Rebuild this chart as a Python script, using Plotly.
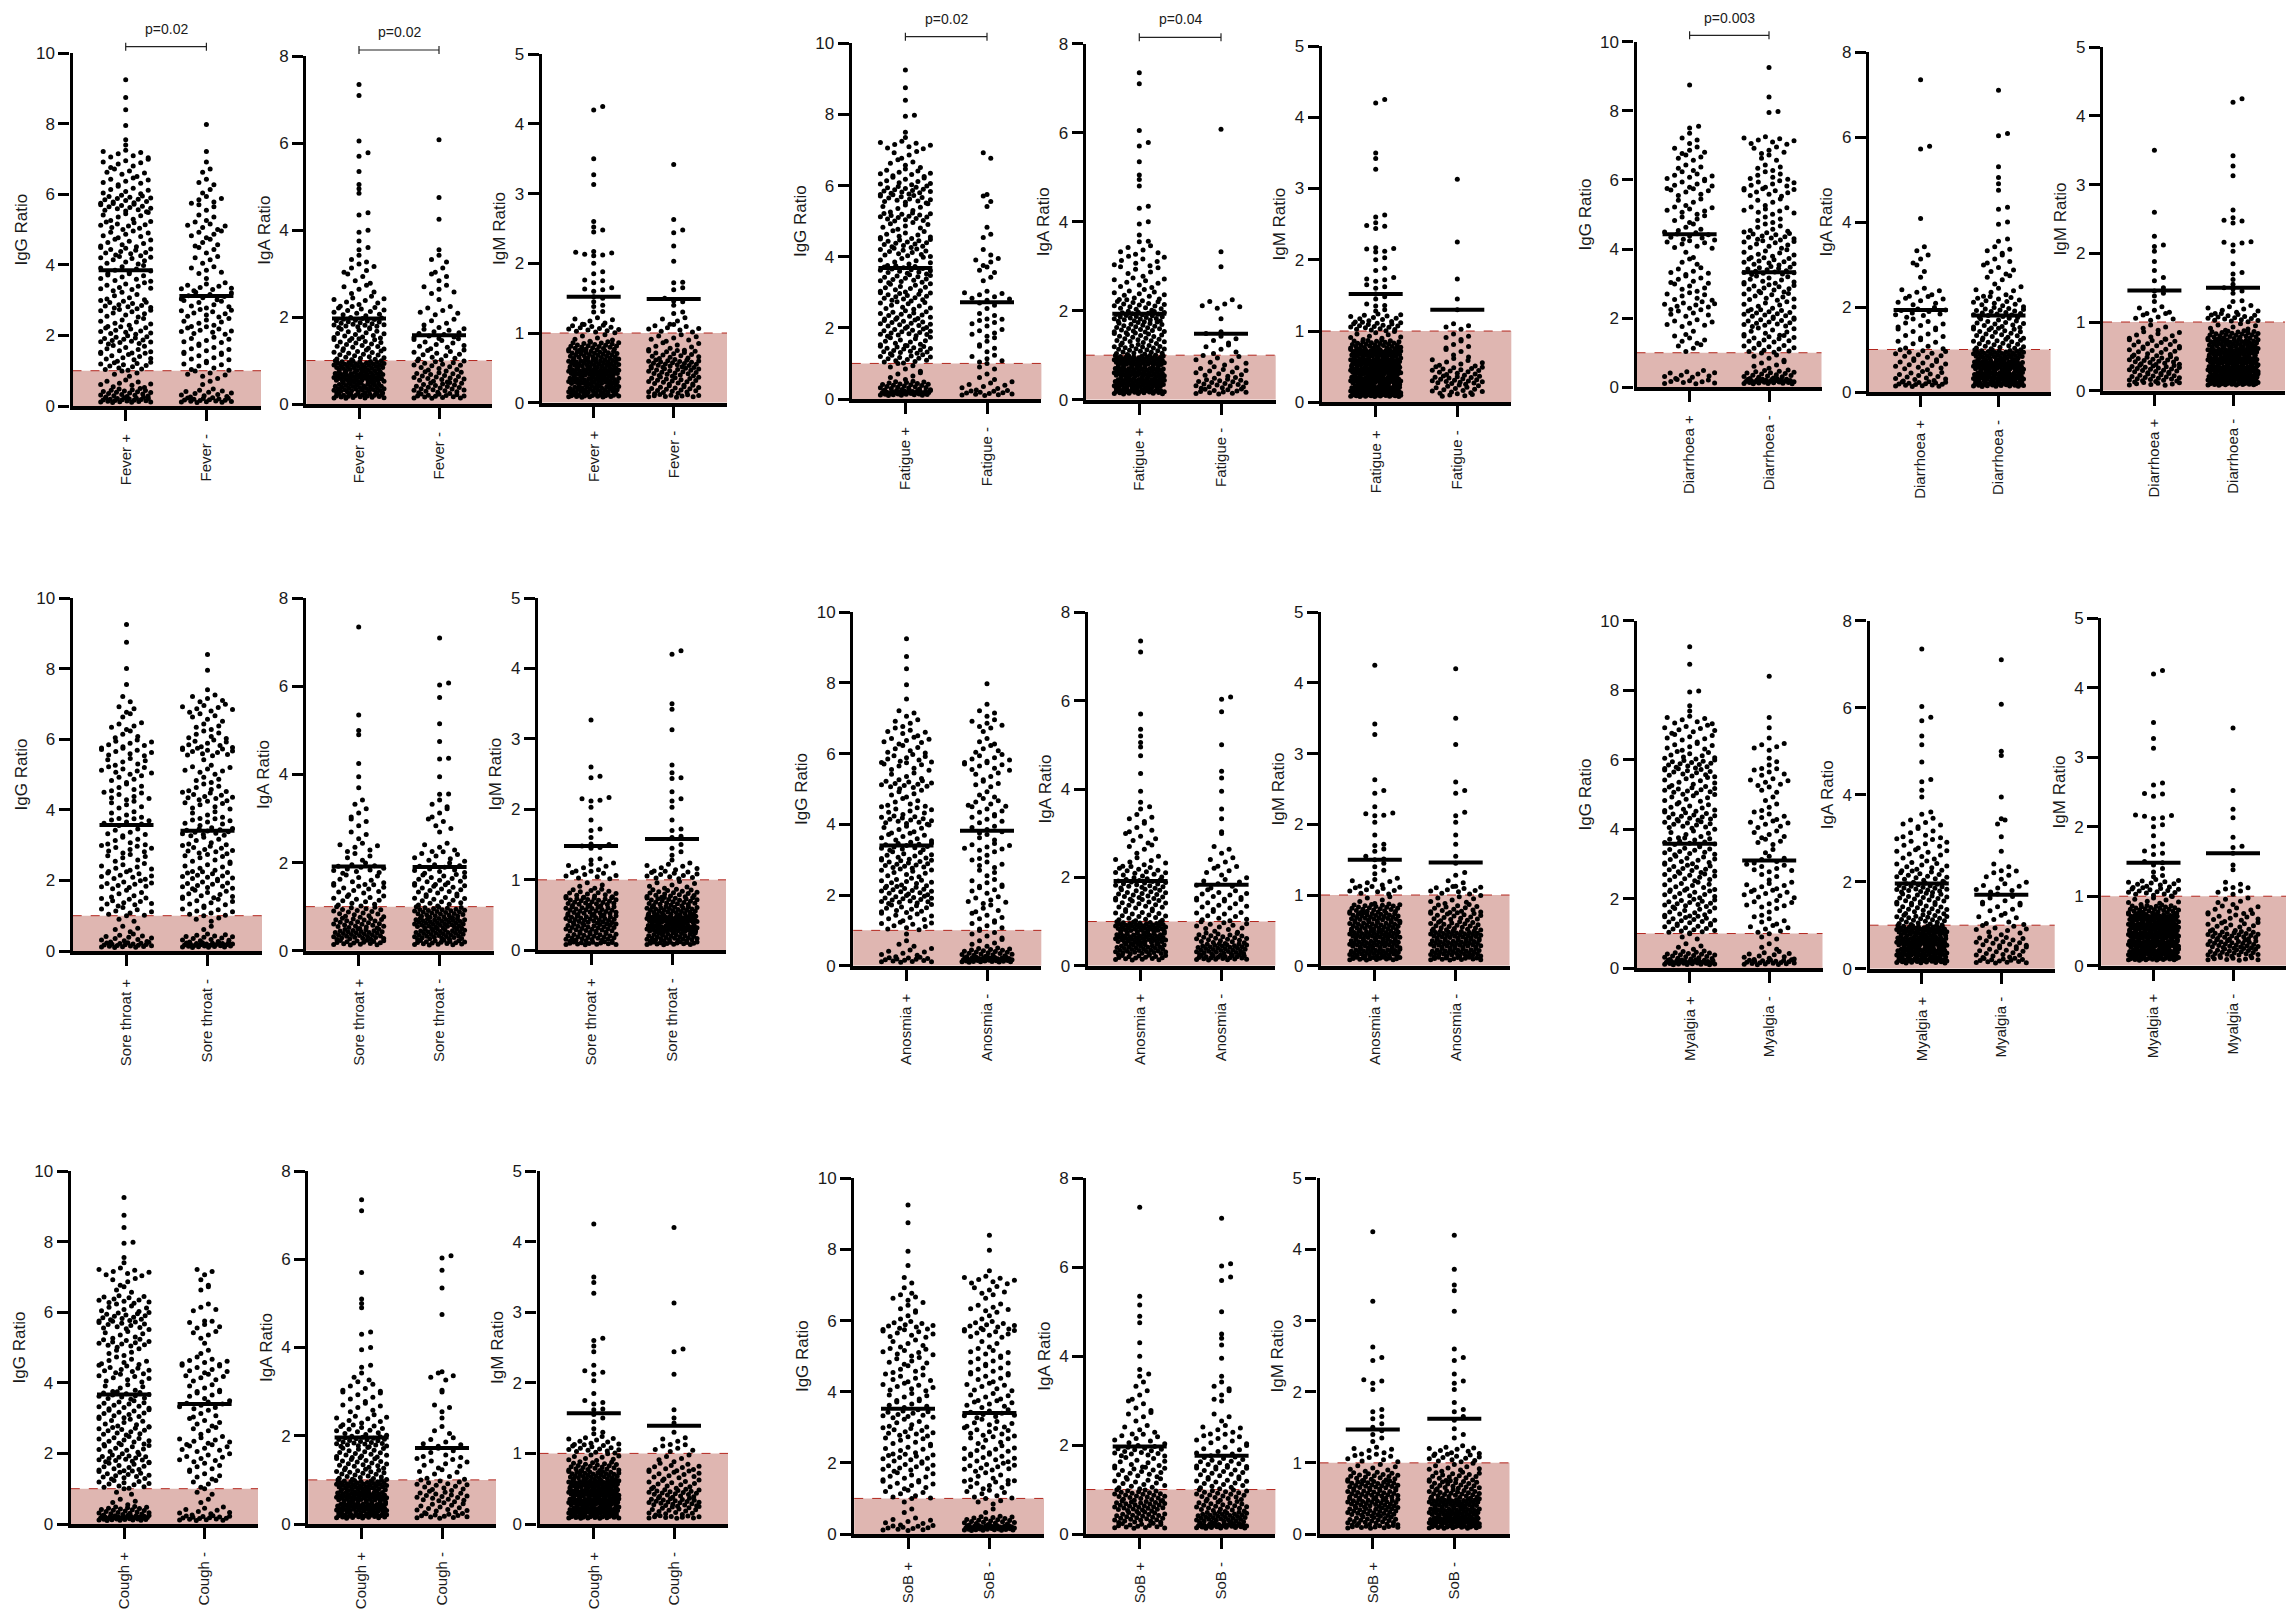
import plotly.graph_objects as go

# ---------- chart content ----------
SYMPTOMS = ["Fever", "Fatigue", "Diarrhoea", "Sore throat", "Anosmia", "Myalgia", "Cough", "SoB"]
ANTIBODIES = ["IgG", "IgA", "IgM"]
Y_TICKS = {"IgG": [0, 2, 4, 6, 8, 10], "IgA": [0, 2, 4, 6, 8], "IgM": [0, 1, 2, 3, 4, 5]}
CUTOFF = 1
# width of the count bins
BIN = {"IgG": 0.25, "IgA": 0.25, "IgM": 0.125}
FLOOR = {"IgG": 0.1, "IgA": 0.13, "IgM": 0.08}

# group means (IgG+, IgG-, IgA+, IgA-, IgM+, IgM-)
Fever_means = [3.85, 3.12, 1.97, 1.58, 1.52, 1.49]
Fatigue_means = [3.68, 2.72, 1.93, 1.48, 1.52, 1.30]
Diarrhoea_means = [4.43, 3.33, 1.93, 1.80, 1.46, 1.50]
Sore_throat_means = [3.57, 3.41, 1.91, 1.90, 1.48, 1.58]
Anosmia_means = [3.40, 3.82, 1.92, 1.83, 1.50, 1.46]
Myalgia_means = [3.58, 3.10, 1.96, 1.70, 1.48, 1.62]
Cough_means = [3.67, 3.40, 1.96, 1.72, 1.57, 1.39]
SoB_means = [3.52, 3.40, 1.97, 1.76, 1.47, 1.62]

# number of points per bin, and the separate points above the binned part
Fever_IgG_pos = [22,20,9,4,12,10,9,14,11,8,9,12,6,9,8,8,9,11,8,7,10,7,13,13,7,7,6,7,7]
Fever_IgG_pos_high = [7.4,7.55,7.95,8.4,8.75,9.25]
Fever_IgG_neg = [17,12,2,6,7,7,7,7,9,7,9,7,8,9,1,5,4,3,4,5,6,3,3,5,2,3,2,1,1]
Fever_IgG_neg_high = [7.98]
Fatigue_IgG_pos = [32,24,5,5,14,16,11,15,14,13,10,14,11,13,14,8,12,14,9,7,15,7,13,15,9,9,5,4,8]
Fatigue_IgG_pos_high = [7.35,7.5,7.95,7.98,8.4,8.75,9.25]
Fatigue_IgG_neg = [12,8,3,3,5,3,3,5,5,3,3,7,1,2,3,4,2,0,2,1,0,1,2,1,0,0,0,2,0]
Fatigue_IgG_neg_high = []
Diarrhoea_IgG_pos = [9,10,0,0,4,5,2,7,6,9,7,5,6,6,3,2,7,9,4,5,7,4,6,7,7,4,4,5,3]
Diarrhoea_IgG_pos_high = [7.35,7.5,7.55,8.75]
Diarrhoea_IgG_neg = [28,18,5,5,11,11,8,13,13,8,10,11,9,14,11,8,9,12,6,4,8,4,9,8,6,4,3,5,8]
Diarrhoea_IgG_neg_high = [7.95,7.98,8.4,9.25]
Sore_throat_IgG_pos = [20,12,4,3,8,10,5,10,9,8,6,8,6,6,7,5,5,7,5,5,8,6,8,8,4,5,2,3,2]
Sore_throat_IgG_pos_high = [7.55,8.0,8.75,9.25]
Sore_throat_IgG_neg = [26,15,2,4,8,8,9,11,11,7,7,10,6,13,7,5,7,10,6,4,7,2,11,9,6,4,5,8,5]
Sore_throat_IgG_neg_high = [7.4,7.95,8.4]
Anosmia_IgG_pos = [14,8,3,1,9,8,11,15,14,11,9,14,10,13,8,7,13,8,6,5,12,5,7,9,6,7,6,4,3]
Anosmia_IgG_pos_high = [7.55,7.95,8.4,8.75,9.25]
Anosmia_IgG_neg = [36,22,5,5,5,5,4,6,5,5,3,5,3,7,3,5,5,5,6,3,4,4,7,7,4,3,2,5,3]
Anosmia_IgG_neg_high = [7.4,7.98]
Myalgia_IgG_pos = [30,20,4,3,13,13,11,13,11,10,11,12,10,11,11,6,12,13,9,8,12,8,12,14,9,7,7,8,7]
Myalgia_IgG_pos_high = [7.4,7.55,7.95,7.98,8.75,9.25]
Myalgia_IgG_neg = [20,11,3,3,6,5,3,7,8,7,3,7,5,2,4,5,6,5,3,2,3,6,5,3,1,5,1,1,1]
Myalgia_IgG_neg_high = [8.4]
Cough_IgG_pos = [32,22,4,3,11,13,11,16,10,11,12,9,11,11,12,6,8,10,7,5,12,6,12,14,7,11,3,4,8]
Cough_IgG_pos_high = [7.4,7.55,7.95,7.98,8.4,8.75,9.25]
Cough_IgG_neg = [16,9,2,3,4,5,5,8,7,8,4,5,4,8,5,5,6,7,7,2,1,4,5,1,4,0,2,2,3]
Cough_IgG_neg_high = []
SoB_IgG_pos = [11,7,2,2,7,8,8,10,10,7,7,10,6,11,6,6,8,7,5,6,8,5,8,10,3,3,5,2,2]
SoB_IgG_pos_high = [7.55,7.95,8.75,9.25]
SoB_IgG_neg = [36,22,2,4,7,9,6,10,9,9,6,9,7,9,7,6,7,6,6,6,6,3,9,10,3,6,2,5,8]
SoB_IgG_neg_high = [7.4,7.98,8.4]

Fever_IgA_pos = [22,38,42,38,18,17,15,22,12,9,5,4,5,3]
Fever_IgA_pos_high = [3.55,3.6,3.75,3.95,4.0,4.35,4.4,4.85,4.95,5.05,5.35,5.7,5.78,6.05,7.1,7.35]
Fever_IgA_neg = [15,22,19,15,12,10,11,5,6,1,5,3,2,3]
Fever_IgA_neg_high = [3.55,4.25,4.75,6.08]
Fatigue_IgA_pos = [28,52,50,50,24,20,22,26,17,11,9,6,8,6]
Fatigue_IgA_pos_high = [3.55,3.56,3.7,3.95,4.0,4.3,4.35,4.8,4.95,5.05,5.35,5.7,5.78,6.05,7.1,7.35]
Fatigue_IgA_neg = [12,20,12,8,5,5,1,1,6,0,0,1,0,1]
Fatigue_IgA_neg_high = [6.08]
Diarrhoea_IgA_pos = [16,14,12,12,7,7,7,10,7,6,1,2,3,2]
Diarrhoea_IgA_pos_high = [4.08,5.72,5.78,7.35]
Diarrhoea_IgA_neg = [30,48,50,38,18,17,15,18,13,7,4,5,4,4]
Diarrhoea_IgA_neg_high = [3.55,3.6,3.95,4.0,4.3,4.35,4.75,4.9,5.05,5.3,6.03,6.08,7.1]
Sore_throat_IgA_pos = [16,32,24,18,12,11,9,12,4,6,3,3,3,2]
Sore_throat_IgA_pos_high = [3.7,3.95,4.25,4.9,5.0,5.35,7.35]
Sore_throat_IgA_neg = [18,34,36,30,14,14,13,11,8,5,1,4,3,3]
Sore_throat_IgA_neg_high = [3.55,3.56,3.95,4.35,4.37,4.75,5.15,5.75,6.03,6.08,7.1]
Anosmia_IgA_pos = [16,35,40,40,16,16,18,20,14,8,4,5,4,4]
Anosmia_IgA_pos_high = [3.55,3.6,3.7,3.95,4.35,4.75,4.95,5.05,5.2,5.35,5.7,7.1,7.35]
Anosmia_IgA_neg = [22,34,22,12,10,10,10,8,5,4,3,1,1,1]
Anosmia_IgA_neg_high = [3.55,3.95,4.25,4.4,5.0,5.75,6.03,6.08]
Myalgia_IgA_pos = [28,46,50,45,22,18,18,22,14,11,9,8,6,6]
Myalgia_IgA_pos_high = [3.55,3.6,3.95,4.1,4.3,4.35,4.75,5.15,5.35,5.7,5.78,6.03,7.35]
Myalgia_IgA_neg = [14,16,16,9,7,6,6,8,5,3,1,0,1,2]
Myalgia_IgA_neg_high = [3.45,3.95,4.9,5.0,6.08,7.1]
Cough_IgA_pos = [26,48,48,40,20,18,17,24,13,9,6,6,6,3]
Cough_IgA_pos_high = [3.55,3.6,3.95,4.0,4.3,4.35,4.9,5.0,5.1,5.7,7.1,7.35]
Cough_IgA_neg = [12,14,17,14,7,8,6,6,3,1,3,1,1,4]
Cough_IgA_neg_high = [3.45,4.75,5.35,5.75,6.03,6.08]
SoB_IgA_pos = [14,26,28,24,13,14,10,16,8,5,4,4,3,2]
SoB_IgA_pos_high = [3.55,3.6,3.7,4.0,4.3,4.75,4.9,5.15,5.35,7.35]
SoB_IgA_neg = [28,34,22,20,14,14,14,8,8,6,3,1,3,3]
SoB_IgA_neg_high = [3.55,3.95,4.25,4.4,4.5,5.0,5.7,5.78,6.03,6.08,7.1]

Fever_IgM_pos = [20,34,36,38,34,30,24,6,14,6]
Fever_IgM_pos_high = [1.3,1.31,1.38,1.4,1.45,1.5,1.52,1.6,1.62,1.63,1.65,1.72,1.75,1.76,1.85,1.88,2.0,2.11,2.12,2.13,2.15,2.16,2.17,2.45,2.48,2.52,2.6,3.13,3.27,3.5,4.2,4.25]
Fever_IgM_neg = [10,18,18,20,22,15,8,7,9,4]
Fever_IgM_neg_high = [1.28,1.3,1.4,1.45,1.46,1.5,1.62,1.65,1.72,1.73,2.03,2.25,2.44,2.48,2.63,3.42]
Fatigue_IgM_pos = [28,45,48,50,46,45,30,9,18,12]
Fatigue_IgM_pos_high = [1.28,1.3,1.35,1.36,1.38,1.45,1.48,1.52,1.6,1.62,1.65,1.7,1.72,1.73,1.75,1.85,1.88,2.0,2.03,2.11,2.12,2.15,2.16,2.17,2.44,2.47,2.48,2.52,2.6,2.63,3.27,3.42,3.5,4.2,4.25]
Fatigue_IgM_neg = [5,14,19,15,8,4,4,4,4,0]
Fatigue_IgM_neg_high = [1.3,1.45,1.73,2.25,3.13]
Diarrhoea_IgM_pos = [8,20,20,18,12,12,8,4,6,5]
Diarrhoea_IgM_pos_high = [1.3,1.38,1.42,1.45,1.5,1.6,1.65,1.75,1.88,2.03,2.1,2.12,2.25,2.6,3.5]
Diarrhoea_IgM_neg = [24,50,45,44,38,35,26,7,16,8]
Diarrhoea_IgM_neg_high = [1.3,1.31,1.42,1.45,1.48,1.5,1.55,1.62,1.7,1.72,1.85,2.03,2.12,2.15,2.16,2.17,2.44,2.47,2.48,2.52,2.63,3.13,3.27,3.42,4.2,4.25]
Sore_throat_IgM_pos = [14,26,26,28,26,24,15,4,9,7]
Sore_throat_IgM_pos_high = [1.28,1.3,1.45,1.46,1.48,1.5,1.51,1.6,1.7,1.72,1.85,2.03,2.12,2.13,2.15,2.17,2.45,2.47,2.6,3.27]
Sore_throat_IgM_neg = [16,30,38,42,30,24,18,7,12,8]
Sore_throat_IgM_neg_high = [1.28,1.35,1.4,1.45,1.5,1.6,1.62,1.7,1.72,1.85,2.03,2.12,2.15,2.25,2.44,2.45,2.52,2.63,3.13,3.42,3.5,4.2,4.25]
Anosmia_IgM_pos = [16,34,34,34,30,30,24,5,10,7]
Anosmia_IgM_pos_high = [1.3,1.35,1.4,1.45,1.5,1.51,1.55,1.62,1.65,1.7,1.72,1.85,2.03,2.12,2.13,2.15,2.16,2.25,2.44,2.48,2.63,3.27,3.42,4.25]
Anosmia_IgM_neg = [14,32,32,32,20,16,14,8,10,3]
Anosmia_IgM_neg_high = [1.28,1.32,1.45,1.55,1.72,1.85,2.03,2.12,2.17,2.44,2.48,2.6,3.13,3.5,4.2]
Myalgia_IgM_pos = [24,42,45,45,42,38,28,9,15,12]
Myalgia_IgM_pos_high = [1.28,1.3,1.35,1.4,1.45,1.48,1.5,1.6,1.62,1.65,1.72,1.75,1.87,2.0,2.03,2.12,2.13,2.15,2.16,2.17,2.44,2.47,2.48,2.6,2.63,3.13,3.27,3.5,4.2,4.25]
Myalgia_IgM_neg = [9,22,24,22,12,10,8,5,5,3]
Myalgia_IgM_neg_high = [1.38,1.45,1.62,1.7,1.72,1.85,2.13,2.25,2.52,3.42]
Cough_IgM_pos = [22,42,44,42,38,32,22,10,14,10]
Cough_IgM_pos_high = [1.28,1.3,1.35,1.45,1.5,1.55,1.62,1.63,1.7,1.72,1.75,1.85,2.03,2.12,2.15,2.17,2.25,2.44,2.52,2.6,2.63,3.27,3.42,3.5,4.25]
Cough_IgM_neg = [10,16,22,20,12,11,10,5,6,4]
Cough_IgM_neg_high = [1.3,1.43,1.5,1.62,2.12,2.44,2.48,3.13,4.2]
SoB_IgM_pos = [12,24,26,28,26,26,18,7,8,6]
SoB_IgM_pos_high = [1.3,1.35,1.4,1.45,1.5,1.55,1.62,1.65,1.72,1.75,2.03,2.12,2.15,2.17,2.44,2.48,2.63,3.27,4.25]
SoB_IgM_neg = [18,40,36,36,24,20,16,9,12,10]
SoB_IgM_neg_high = [1.35,1.4,1.48,1.6,1.65,1.72,1.75,1.85,2.03,2.12,2.15,2.25,2.44,2.48,2.6,3.13,3.42,3.5,3.72,4.2]

# p-value brackets: symptom, antibody, label
P_LABELS = [("Fever", "IgG", "p=0.02"), ("Fever", "IgA", "p=0.02"), ("Fatigue", "IgG", "p=0.02"),
            ("Fatigue", "IgA", "p=0.04"), ("Diarrhoea", "IgG", "p=0.003")]

# ---------- page layout, in pixels of the 2296x1611 page ----------
W, H = 2296, 1611
# axis_x, right_x, cat1_x, cat2_x, top_y, zero_y
GEOM = {
    "Fever": [(72.5,261,125.7,206.4,53.3,406), (306.4,492,359,439,56.3,404), (541.7,727,593.7,673.7,54.3,402.7)],
    "Fatigue": [(851.8,1041.4,905.4,987,43.3,399), (1085.7,1275.7,1139.3,1221,43.7,399.7), (1321.7,1511.3,1375.7,1457.3,46,402.3)],
    "Diarrhoea": [(1636.5,1821.5,1689.6,1769,41.7,387.3), (1869,2050.6,1920.6,1998.5,52,392), (2103,2285,2154.4,2233,47.3,390.7)],
    "Sore throat": [(72.7,262,126.5,207.5,598,951), (305.9,493.5,358.7,439.6,598.3,950.7), (538,726,591,672,598,950.3)],
    "Anosmia": [(853.2,1041.3,906.5,987,612.3,965.7), (1087.8,1275.4,1140.6,1221.6,612.3,965.7), (1321,1509.5,1374.8,1455.7,612.3,965.7)],
    "Myalgia": [(1636.8,1822.5,1689.7,1769.2,620.7,968.3), (1869.5,2054.7,1921.8,2001.3,620.7,968.7), (2101.2,2286,2153.5,2233,618.3,965.7)],
    "Cough": [(70.8,258,124,204.6,1171,1524), (308.3,496,361.6,442,1171,1524), (539.5,728,593.8,674,1171,1524)],
    "SoB": [(854.2,1044,908,989.4,1178.3,1534), (1086.4,1275.4,1139.7,1221.6,1178.3,1534), (1319.5,1509.5,1372.8,1454.3,1178.3,1534)],
}
P_GEOM = {("Fever", "IgG"): (46.7, 29), ("Fever", "IgA"): (50, 32), ("Fatigue", "IgG"): (36.7, 19),
          ("Fatigue", "IgA"): (37.3, 19), ("Diarrhoea", "IgG"): (35.3, 18.3)}
BAND = "#DFB6B1"
CUT_LINE = "#B3261E"
FONT = "Liberation Sans, Arial, sans-serif"
INK = "#1a1a1a"
HALF = 25.0      # half width of a swarm, px
MEAN_HALF = 27.0 # half width of the mean bar, px


def frac(v):
    return v - int(v)


def swarm(counts, high, ab, px_x, px_y):
    """Lay out one group's points: bins fill rows across the swarm width, single points are nudged aside."""
    w = BIN[ab]
    xs, ys = [], []
    for b, n in enumerate(counts):
        lo = b * w
        hi = lo + w
        if b == 0:
            lo = FLOOR[ab]
        step = min(7.5, 2 * HALF / (n - 1)) if n > 1 else 0
        for j in range(n):
            xs.append((j - (n - 1) / 2) * step / px_x)
            ys.append(lo + (hi - lo) * frac(j * 0.382 + b * 0.17 + 0.09))
    placed = []
    for v in sorted(high):
        yp = v * px_y
        k = 0
        while True:
            off = ((k + 1) // 2) * 9.0 * (1 if k % 2 else -1)
            if all(not (abs(yp - py_) < 4 and abs(off - px_) < 8.9) for px_, py_ in placed):
                break
            k += 1
        placed.append((off, yp))
        xs.append(off / px_x)
        ys.append(v)
    return xs, ys


fig = go.Figure()
layout = {}
shapes, annotations = [], []
axis_no = 0


def py(y):
    return 1 - y / H


for sym in SYMPTOMS:
    key = sym.replace(" ", "_")
    means = globals()[key + "_means"]
    for a, ab in enumerate(ANTIBODIES):
        axis_no += 1
        ax, right, c1, c2, top, zero = GEOM[sym][a]
        px_x = c2 - c1                 # pixels per category step
        px_y = (zero - top) / Y_TICKS[ab][-1]  # pixels per unit
        suffix = "" if axis_no == 1 else str(axis_no)
        xname, yname = f"x{suffix}", f"y{suffix}"
        layout[f"xaxis{suffix}"] = dict(
            domain=[ax / W, right / W], anchor=yname, automargin=False,
            range=[1 - (c1 - ax) / px_x, 2 + (right - c2) / px_x],
            tickmode="array", tickvals=[1, 2], ticktext=[f"{sym} +", f"{sym} -"], tickangle=-90,
            ticks="outside", ticklen=11, tickwidth=3, tickcolor="black",
            showline=True, linewidth=4, linecolor="black", showgrid=False, zeroline=False,
            ticklabelstandoff=7, tickfont=dict(family=FONT, size=15, color=INK),
        )
        layout[f"yaxis{suffix}"] = dict(
            domain=[py(zero), py(top)], anchor=xname, range=[0, Y_TICKS[ab][-1]], automargin=False,
            tickmode="array", tickvals=Y_TICKS[ab], ticks="outside", ticklen=11, tickwidth=3,
            tickcolor="black", showline=True, linewidth=3.4, linecolor="black", showgrid=False,
            zeroline=False, tickfont=dict(family=FONT, size=17, color=INK),
            title=dict(text=f"{ab} Ratio", standoff=5, font=dict(family=FONT, size=17, color=INK)),
        )
        shapes.append(dict(type="rect", xref=f"{xname} domain", yref=yname, x0=0, x1=1, y0=0, y1=CUTOFF,
                           fillcolor=BAND, line=dict(width=0), layer="below"))
        shapes.append(dict(type="line", xref=f"{xname} domain", yref=yname, x0=0, x1=1, y0=CUTOFF, y1=CUTOFF,
                           line=dict(color=CUT_LINE, width=1, dash="dash"), layer="below"))
        for c, sign in enumerate(["pos", "neg"]):
            counts = globals()[f"{key}_{ab}_{sign}"]
            high = globals()[f"{key}_{ab}_{sign}_high"]
            xs, ys = swarm(counts, high, ab, px_x, px_y)
            cat = c + 1
            fig.add_trace(go.Scatter(
                x=[cat + v for v in xs], y=ys, mode="markers", xaxis=xname, yaxis=yname,
                name=f"{sym} {'+' if c == 0 else '-'} {ab}",
                marker=dict(size=5, color="black", line=dict(width=0)), hoverinfo="skip", cliponaxis=False))
            mean = means[a * 2 + c]
            dx = MEAN_HALF / px_x
            fig.add_trace(go.Scatter(
                x=[cat - dx, cat + dx], y=[mean, mean], mode="lines", xaxis=xname, yaxis=yname,
                line=dict(color="black", width=4), hoverinfo="skip", name=f"{sym} mean"))

for sym, ab, label in P_LABELS:
    a = ANTIBODIES.index(ab)
    _, _, c1, c2, _, _ = GEOM[sym][a]
    by, ty = P_GEOM[(sym, ab)]
    line = dict(color="#222222", width=1.2)
    shapes.append(dict(type="line", xref="paper", yref="paper", x0=c1 / W, x1=c2 / W, y0=py(by), y1=py(by), line=line))
    for cx in (c1, c2):
        shapes.append(dict(type="line", xref="paper", yref="paper", x0=cx / W, x1=cx / W,
                           y0=py(by - 4), y1=py(by + 4), line=line))
    annotations.append(dict(text=label, xref="paper", yref="paper", x=(c1 + c2) / 2 / W, y=py(ty),
                            showarrow=False, xanchor="center", yanchor="middle",
                            font=dict(family=FONT, size=14, color=INK)))

fig.update_layout(template="none", width=W, height=H, margin=dict(l=0, r=0, t=0, b=0), autosize=False,
                  paper_bgcolor="white", plot_bgcolor="rgba(0,0,0,0)", showlegend=False,
                  shapes=shapes, annotations=annotations, **layout)
fig.write_html("out.html", config={"displayModeBar": False},
               post_script="document.body.style.margin='0';")
